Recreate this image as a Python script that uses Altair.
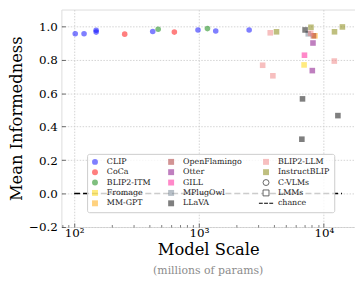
import altair as alt
import pandas as pd

# ---- data ----
models = (["CLIP"] * 8 + ["CoCa"] * 2 + ["BLIP2-ITM"] * 2 + ["Fromage"] + ["MM-GPT"]
          + ["OpenFlamingo"] + ["Otter"] * 2 + ["GILL"] + ["MPlugOwl"] + ["LLaVA"] * 4
          + ["BLIP2-LLM"] * 5 + ["InstructBLIP"] * 4)
params = [102, 120, 150, 150, 426, 982, 1362, 2523,
          254, 635,
          471, 1169,
          6950,
          8490,
          8260,
          8190, 8090,
          7000,
          7510,
          7080, 6750, 6670, 12970,
          3724, 3237, 3908, 12140, 7850,
          4180, 7890, 12180, 14090]
scores = [0.955, 0.955, 0.976, 0.965, 0.969, 0.978, 0.972, 0.978,
          0.953, 0.965,
          0.982, 0.986,
          0.769,
          0.943,
          0.943,
          0.900, 0.735,
          0.827,
          0.955,
          0.978, 0.566, 0.325, 0.466,
          0.961, 0.767, 0.704, 0.792, 0.958,
          0.967, 0.994, 0.967, 0.996]

chance_x = [100, 14000]
chance_y = [0.0, 0.0]

legend_domain = ["CLIP", "CoCa", "BLIP2-ITM", "Fromage", "MM-GPT",
                 "OpenFlamingo", "Otter", "GILL", "MPlugOwl", "LLaVA",
                 "BLIP2-LLM", "InstructBLIP", "C-VLMs", "LMMs", "chance"]
fill_map = {
    "CLIP": "rgba(0,0,255,0.5)", "CoCa": "rgba(255,0,0,0.5)", "BLIP2-ITM": "rgba(0,128,0,0.5)",
    "Fromage": "rgba(255,215,0,0.5)", "MM-GPT": "rgba(255,165,0,0.5)",
    "OpenFlamingo": "rgba(165,42,42,0.5)", "Otter": "rgba(128,0,128,0.5)",
    "GILL": "rgba(255,20,147,0.5)", "MPlugOwl": "rgba(112,128,144,0.5)",
    "LLaVA": "rgba(0,0,0,0.5)", "BLIP2-LLM": "rgba(240,128,128,0.5)",
    "InstructBLIP": "rgba(128,128,0,0.5)",
    "C-VLMs": "white", "LMMs": "white", "chance": "black",
}
dash_path = ("M-2.4,-0.18L-1.1,-0.18L-1.1,0.18L-2.4,0.18Z "
             "M-0.65,-0.18L0.65,-0.18L0.65,0.18L-0.65,0.18Z "
             "M1.1,-0.18L2.4,-0.18L2.4,0.18L1.1,0.18Z")
circles = {"CLIP", "CoCa", "BLIP2-ITM", "C-VLMs"}
shape_range = [("circle" if m in circles else (dash_path if m == "chance" else "square"))
               for m in legend_domain]
fill_range = [fill_map[m] for m in legend_domain]
stroke_range = [("#555555" if m in ("C-VLMs", "LMMs") else "transparent") for m in legend_domain]

df = pd.DataFrame({"model": models, "params": params, "score": scores})
chance_df = pd.DataFrame({"params": chance_x, "score": chance_y})

FONT = "DejaVu Serif"
x_dom = [79, 17780]
y_dom = [-0.2, 1.1]
y_ticks = [-0.2, 0.0, 0.2, 0.4, 0.6, 0.8, 1.0]
x_major = [100, 1000, 10000]
x_minor = [80, 90] + [k * 100 for k in range(2, 10)] + [k * 1000 for k in range(2, 10)]

label_expr = ("datum.value == 100 ? '10\u00b2' : datum.value == 1000 ? '10\u00b3' : "
              "datum.value == 10000 ? '10\u2074' : ''")

xscale = alt.Scale(type="log", domain=x_dom, nice=False)
yscale = alt.Scale(domain=y_dom, nice=False, zero=False)

points = alt.Chart(df).mark_point(filled=True, size=32, opacity=1, strokeWidth=0.9).encode(
    x=alt.X("params:Q", scale=xscale,
            axis=alt.Axis(orient="bottom", values=x_major, labelExpr=label_expr,
                          title="Model Scale", titleFont=FONT, titleFontSize=16.5,
                          titleFontWeight="normal", titleColor="black", titlePadding=3,
                          labelFont=FONT, labelFontSize=12, labelColor="black",
                          labelPadding=1, ticks=False, tickSize=0, domain=False,
                          grid=True, gridColor="#c8c8c8", gridDash=[1.5, 1.5],
                          gridWidth=0.8)),
    y=alt.Y("score:Q", scale=yscale,
            axis=alt.Axis(orient="left", values=y_ticks, format=".1f",
                          title="Mean Informedness", titleFont=FONT, titleFontSize=16.5,
                          titleFontWeight="normal", titleColor="black", titlePadding=4,
                          labelFont=FONT, labelFontSize=12, labelColor="black",
                          labelPadding=4, ticks=False, tickSize=0, domain=False,
                          grid=True, gridColor="#c8c8c8", gridDash=[1.5, 1.5],
                          gridWidth=0.8)),
    fill=alt.Fill("model:N", scale=alt.Scale(domain=legend_domain, range=fill_range),
                  sort=legend_domain,
                  legend=alt.Legend(title=None, orient="none", legendX=26, legendY=146,
                                    columns=3, columnPadding=15, rowPadding=0.5,
                                    labelFont=FONT, labelFontSize=8, labelColor="#222",
                                    labelOffset=8, symbolSize=36, symbolStrokeWidth=0.9,
                                    padding=4, fillColor="rgba(255,255,255,0.8)",
                                    strokeColor="#cccccc", cornerRadius=2)),
    shape=alt.Shape("model:N", scale=alt.Scale(domain=legend_domain, range=shape_range),
                    sort=legend_domain, legend=alt.Legend(title=None)),
    stroke=alt.Stroke("model:N", scale=alt.Scale(domain=legend_domain, range=stroke_range),
                      sort=legend_domain, legend=alt.Legend(title=None)),
)

chance = alt.Chart(chance_df).mark_line(color="black", strokeDash=[6, 3], strokeWidth=1.5).encode(
    x=alt.X("params:Q", scale=xscale,
            axis=alt.Axis(orient="bottom", values=x_major, labels=False, title=None,
                          domain=False, grid=False, ticks=True, tickSize=4, offset=-4,
                          tickColor="#444444", tickWidth=0.8)),
    y=alt.Y("score:Q", scale=yscale,
            axis=alt.Axis(orient="left", values=y_ticks, labels=False, title=None,
                          domain=False, grid=False, ticks=True, tickSize=4, offset=-4,
                          tickColor="#444444", tickWidth=0.8)),
)

minor = alt.Chart(chance_df).mark_line(opacity=0).encode(
    x=alt.X("params:Q", scale=xscale,
            axis=alt.Axis(orient="bottom", values=x_minor, labels=False, title=None,
                          domain=False, grid=False, ticks=True, tickSize=2.5, offset=-2.5,
                          tickColor="#444444", tickWidth=0.7)),
    y=alt.Y("score:Q", scale=yscale, axis=None),
)

chart = alt.layer(chance, minor, points).resolve_axis(x="independent", y="independent").properties(
    width=297, height=220,
    padding={"left": 0, "top": 0, "right": 0, "bottom": 0},
    title=alt.TitleParams("(millions of params)", orient="bottom", font=FONT, fontSize=11,
                          fontWeight="normal", color="#8c8c8c", offset=7),
).configure_view(stroke="#808080", strokeWidth=1.3).configure(background="white")

chart.save("out.html", embed_options={"renderer": "svg", "actions": False})
